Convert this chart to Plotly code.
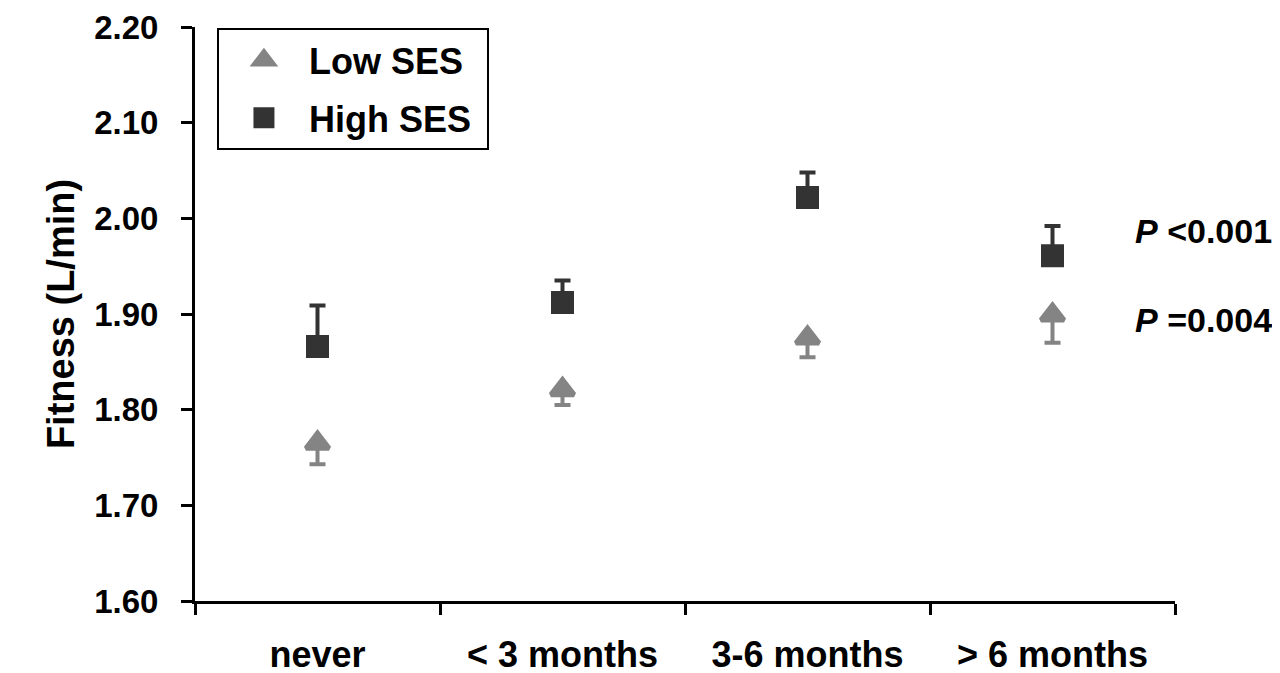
import plotly.graph_objects as go

categories = ["never", "< 3 months", "3-6 months", "> 6 months"]
low_ses = [1.765, 1.821, 1.875, 1.899]
low_ses_err_minus = [0.022, 0.016, 0.020, 0.029]
high_ses = [1.866, 1.912, 2.022, 1.961]
high_ses_err_plus = [0.043, 0.023, 0.026, 0.031]
y_ticks = [1.60, 1.70, 1.80, 1.90, 2.00, 2.10, 2.20]
p_labels = ["<i>P</i> &lt;0.001", "<i>P</i> =0.004"]
p_label_y = [1.9865, 1.894]

FONT = "Arial, 'Liberation Sans', sans-serif"
LOW_COLOR = "#848484"
HIGH_COLOR = "#333333"
NB = "\u00a0"

fig = go.Figure()
fig.add_trace(go.Scatter(
    x=categories, y=low_ses, mode="markers", name="Low SES" + NB,
    legendgroup="low",
    marker=dict(symbol="triangle-up", size=20, color=LOW_COLOR,
                line=dict(width=5, color=LOW_COLOR)),
    error_y=dict(type="data", symmetric=False, array=[0] * len(low_ses),
                 arrayminus=low_ses_err_minus, color=LOW_COLOR,
                 thickness=4, width=8),
))
fig.add_trace(go.Scatter(
    x=categories, y=high_ses, mode="markers", name="High SES" + NB,
    legendgroup="high",
    marker=dict(symbol="square", size=18, color=HIGH_COLOR,
                line=dict(width=5, color=HIGH_COLOR)),
    error_y=dict(type="data", symmetric=False, array=high_ses_err_plus,
                 arrayminus=[0] * len(high_ses), color=HIGH_COLOR,
                 thickness=4, width=8),
))

for txt, yv in zip(p_labels, p_label_y):
    fig.add_annotation(
        x=0.957, xref="paper", y=yv, yref="y", text=txt,
        showarrow=False, xanchor="left", yanchor="middle",
        font=dict(family=FONT, size=34, color="black", weight="bold"),
    )

fig.update_layout(
    template="none",
    width=1280, height=673,
    margin=dict(l=187, r=113, t=19, b=80, autoexpand=False),
    paper_bgcolor="white", plot_bgcolor="white",
    font=dict(family=FONT, color="black"),
    showlegend=True,
    legend=dict(
        x=0.0224, y=0.9983, xanchor="left", yanchor="top",
        bordercolor="black", borderwidth=2, bgcolor="white",
        font=dict(family=FONT, size=36, color="black", weight="bold"),
        itemwidth=80, tracegroupgap=8, traceorder="grouped",
    ),
    xaxis=dict(
        type="category", range=[-0.5, 3.5], automargin=False,
        showline=True, linecolor="black", linewidth=3,
        ticks="outside", tickson="boundaries", ticklen=11, tickwidth=3,
        tickcolor="black", showgrid=False, zeroline=False,
        tickfont=dict(family=FONT, size=36, color="black", weight="bold"),
        ticklabelstandoff=20,
    ),
    yaxis=dict(
        range=[1.6, 2.2002], tickvals=y_ticks, tickformat=".2f",
        automargin=False,
        showline=True, linecolor="black", linewidth=3,
        ticks="outside", ticklen=11, tickwidth=3, tickcolor="black",
        showgrid=False, zeroline=False,
        tickfont=dict(family=FONT, size=33, color="black", weight="bold"),
        ticklabelstandoff=16,
        title=dict(text="Fitness (L/min)", standoff=8,
                   font=dict(family=FONT, size=38, color="black",
                             weight="bold")),
    ),
)

fig.write_html("out.html")
